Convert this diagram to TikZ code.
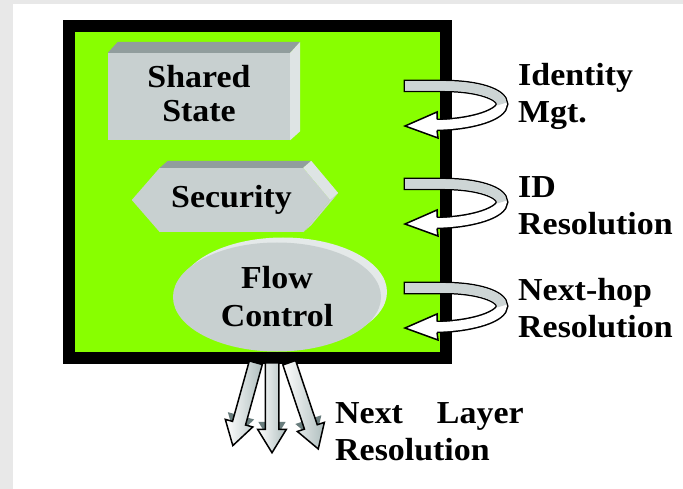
\documentclass[tikz,border=0pt]{standalone}
\usepackage{fontspec}
\setmainfont{Liberation Serif}[FakeStretch=1.06]
\usetikzlibrary{shapes.geometric,shapes.arrows,shadows}
\definecolor{panelgreen}{RGB}{136,255,0}
\definecolor{facegrey}{RGB}{200,208,208}
\definecolor{topgrey}{RGB}{145,157,157}
\definecolor{sidegrey}{RGB}{222,228,228}
\definecolor{rimgrey}{RGB}{228,233,233}
\definecolor{ribbongrey}{RGB}{205,213,213}
\definecolor{headgrey}{RGB}{175,190,190}
\definecolor{shadowgrey}{RGB}{105,125,125}
\definecolor{stripgrey}{RGB}{232,232,232}
\tikzset{
    facenode/.style = {
        align=center,
        inner sep=0pt,
        font=\fontsize{32}{34}\selectfont\bfseries,
        fill=facegrey
    },
    flownode/.style = {
        facenode,
        ellipse,
        font=\fontsize{32}{38}\selectfont\bfseries,
        general shadow={fill=rimgrey, shadow xshift=6pt, shadow yshift=5pt}
    },
    sidelabel/.style = {
        align=left,
        anchor=north west,
        inner sep=0pt,
        font=\fontsize{32}{37}\selectfont\bfseries
    },
    blockarrow/.style = {
        single arrow,
        anchor=tail,
        inner sep=6pt,
        single arrow head extend=7.5pt,
        single arrow tip angle=63,
        single arrow head indent=0pt
    },
    downarrow/.style = {
        blockarrow,
        draw=black,
        line width=1.5pt,
        left color=white,
        right color=headgrey
    },
    arrowshadow/.style = {
        blockarrow,
        fill=shadowgrey
    },
    ribbonedge/.style = {
        line width=12.5pt,
        draw=black
    },
    ribbonfill/.style = {
        line width=9.5pt
    }
}

\begin{document}
\begin{tikzpicture}[x=1pt, y=-1pt]
    \useasboundingbox (0,0) rectangle (683,489);
    \fill[stripgrey] (0,0) rectangle (683,489);
    \fill[white] (13,4) rectangle (683,489);

    % shadows under the heads of the lower arrows
    \node[arrowshadow, minimum height=86pt, rotate=-105.5] (shadowL) at (258.1,354.3) {};
    \node[arrowshadow, minimum height=90pt, rotate=-90] (shadowM) at (272,354) {};
    \node[arrowshadow, minimum height=91pt, rotate=-71.4] (shadowR) at (286.4,354.4) {};

    % the layer
    \draw[line width=12pt, fill=panelgreen] (69,26.5) rectangle (446,358);

    \node[facenode, minimum width=182pt, minimum height=87pt] (state) at (199,96.5)
        {Shared\\State\rule[-7pt]{0pt}{0pt}};
    \fill[topgrey] (state.north west) -- ++(10,-11) -- ([shift={(10pt,11pt)}]state.north east) -- (state.north east) -- cycle;
    \fill[sidegrey] (state.north east) -- ++(10,-11) -- ([shift={(10pt,9pt)}]state.south east) -- (state.south east) -- cycle;

    \node[facenode, minimum width=143pt, minimum height=64pt] (security) at (231.5,200) {Security};
    \fill[facegrey] (security.north west) -- ([xshift=-28pt]security.west) -- (security.south west) -- cycle;
    \fill[facegrey] (security.north east) -- ([xshift=27pt]security.east) -- (security.south east) -- cycle;
    \fill[topgrey] (security.north west) -- ++(8,-7) -- ([shift={(8pt,7pt)}]security.north east) -- (security.north east) -- cycle;
    \fill[sidegrey] (security.north east) -- ++(8,-7) -- ([shift={(35pt,7pt)}]security.east) -- ([xshift=27pt]security.east) -- cycle;
    \fill[sidegrey!92!black] ([xshift=27pt]security.east) -- ([shift={(35pt,7pt)}]security.east) -- ([shift={(8pt,7pt)}]security.south east) -- (security.south east) -- cycle;

    \node[flownode, minimum width=208pt, minimum height=109pt] (flow) at (277,297) {Flow\\Control};

    % arrows to the next layer
    \node[downarrow, minimum height=86pt, rotate=-105.5] (arrL) at (256,362) {};
    \node[downarrow, minimum height=90pt, rotate=-90] (arrM) at (272,362) {};
    \node[downarrow, minimum height=91pt, rotate=-71.4] (arrR) at (289,362) {};

    % turning arrows on the right side
    \foreach \y in {80,178,282} {
        \begin{scope}[shift={(405,\y)}]
            \draw[ribbonedge] (-1.5,6) -- (40,6) .. controls (72,6) and (97,14) .. (97,24)
                .. controls (97,34) and (70,44) .. (32,45);
            \draw[ribbonfill, white] (0,6) -- (40,6) .. controls (72,6) and (97,14) .. (97,24)
                .. controls (97,34) and (70,44) .. (32,45);
            \draw[ribbonfill, ribbongrey] (0,6) -- (40,6) .. controls (72,6) and (97,14) .. (97,24);
            \filldraw[fill=white, line width=1.5pt, line join=miter]
                (32,39.5) -- (32,32) -- (0,46) -- (33,58) -- (32,50.5);
        \end{scope}
    }

    \node[sidelabel] (idmgt) at (518,59) {\strut Identity\\Mgt.};
    \node[sidelabel] (idres) at (518,171) {\strut ID\\Resolution};
    \node[sidelabel] (hopres) at (518,274) {\strut Next-hop\\Resolution};
    \node[sidelabel] (layerres) at (335,397) {\strut Next\hspace{34pt}Layer\\Resolution};
\end{tikzpicture}
\end{document}
